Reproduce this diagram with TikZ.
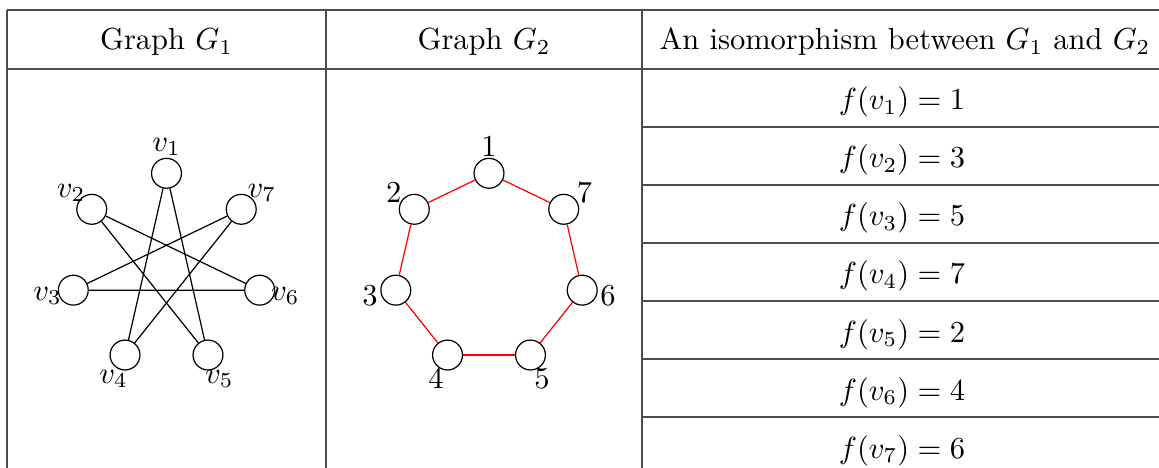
\documentclass[tikz,border=0pt]{standalone}
\usepackage{tikz}
\usetikzlibrary{positioning, calc}

\begin{document}
\begin{tikzpicture}[x=0.3279pt, y=0.3279pt,
  vtx/.style={draw, circle, inner sep=0pt, minimum size=9.8pt, line width=0.4pt},
  vlab/.style={inner sep=0pt},
  rule/.style={draw=black!70, line width=0.6pt},
  head/.style={anchor=base, inner sep=0pt},
  fcell/.style={anchor=base, inner sep=0pt}]
  \useasboundingbox (0,0) rectangle (1159,-468);
  \draw[rule] (7,-10) -- (1159,-10) (7,-69) -- (1159,-69);
  \draw[rule] (7,-10) -- (7,-468) (326,-10) -- (326,-468) (642,-10) -- (642,-468);
  \foreach \y in {127,185,...,417} \draw[rule] (642,-\y) -- (1159,-\y);
  \node[head] (h1) at (166.5,-50) {Graph $G_1$};
  \node[head] (h2) at (484,-50) {Graph $G_2$};
  \node[head] (h3) at (905,-50) {An isomorphism between $G_1$ and $G_2$};
  \foreach \k/\v [count=\r] in {1/1,2/3,3/5,4/7,5/2,6/4,7/6}
    \node[fcell] (f\k) at (902,{-110-58*(\r-1)}) {$f(v_{\k}) = \v$};
  \begin{scope}[shift={(166.5,-268.9)}]
    \foreach \i in {1,...,7} {
      \node[vtx] (a\i) at ({90+(\i-1)*360/7}:95.6) {};
      \node[vlab] (la\i) at ({90+(\i-1)*360/7}:122) {$v_{\i}$};
    }
    \foreach \i/\j in {1/4,1/5,2/5,2/6,3/6,3/7,4/7} \draw (a\i) -- (a\j);
  \end{scope}
  \begin{scope}[shift={(489,-268.9)}]
    \foreach \i in {1,...,7} {
      \node[vtx] (b\i) at ({90+(\i-1)*360/7}:95.6) {};
      \node[vlab] (lb\i) at ({90+(\i-1)*360/7}:122) {$\i$};
    }
    \foreach \i/\j in {1/2,2/3,3/4,4/5,5/6,6/7,7/1} \draw[red] (b\i) -- (b\j);
  \end{scope}
\end{tikzpicture}
\end{document}
